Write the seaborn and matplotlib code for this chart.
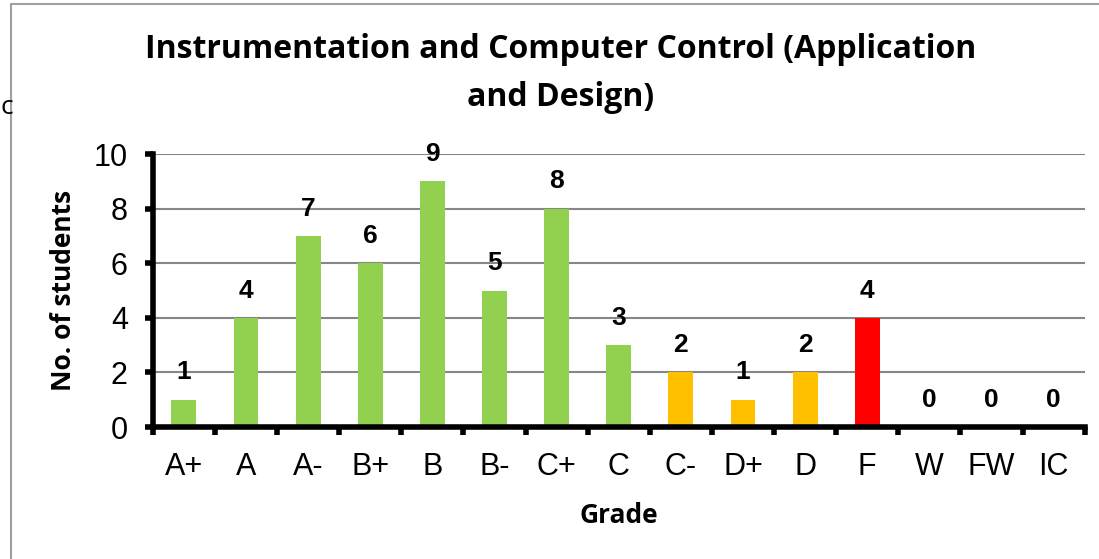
import numpy as np
import pandas as pd
import matplotlib
matplotlib.use('Agg')
import matplotlib.pyplot as plt
import seaborn as sns
from matplotlib.lines import Line2D

grades = ['A+', 'A', 'A-', 'B+', 'B', 'B-', 'C+', 'C', 'C-', 'D+', 'D', 'F', 'W', 'FW', 'IC']
students = [1, 4, 7, 6, 9, 5, 8, 3, 2, 1, 2, 4, 0, 0, 0]
bar_colors = ['#92D050'] * 8 + ['#FFC000'] * 3 + ['#FF0000'] + ['#92D050'] * 3

df = pd.DataFrame({'Grade': grades, 'Students': students})

sns.set_style('white')
plt.rcParams['font.family'] = ['Liberation Sans', 'DejaVu Sans']
plt.rcParams['text.color'] = 'black'
plt.rcParams['axes.labelcolor'] = 'black'
plt.rcParams['xtick.color'] = 'black'
plt.rcParams['ytick.color'] = 'black'

fig = plt.figure(figsize=(10.99, 5.59), dpi=100)
ax = fig.add_axes([0.139, 0.236, 0.848, 0.4885])

sns.barplot(data=df, x='Grade', y='Students', hue='Grade', palette=bar_colors,
            width=0.4, legend=False, saturation=1, linewidth=0, ax=ax)

ax.set_ylim(0, 10)
ax.set_xlim(-0.5, len(grades) - 0.5)
ax.set_yticks(range(0, 11, 2))
ax.yaxis.grid(True, color='#868686', linewidth=1.5)
ax.set_axisbelow(True)

# category boundary ticks, labels on minor ticks
ax.set_xticks(np.arange(-0.5, len(grades), 1.0))
ax.set_xticklabels([])
ax.set_xticks(range(len(grades)), minor=True)
ax.set_xticklabels(grades, minor=True, fontsize=22)
ax.tick_params(axis='x', which='major', bottom=True, direction='out', length=6, width=4, color='black')
ax.tick_params(axis='x', which='minor', bottom=True, length=0, pad=18)
ax.tick_params(axis='y', left=True, direction='out', length=6, width=4, color='black', labelsize=22, pad=12)

for s in ['top', 'right']:
    ax.spines[s].set_visible(False)
for s in ['left', 'bottom']:
    ax.spines[s].set_linewidth(4)
    ax.spines[s].set_color('black')

for i, v in enumerate(students):
    ax.annotate(str(v), (i, v), xytext=(0, 11), textcoords='offset points',
                ha='center', va='bottom', fontsize=19, fontweight='bold')

ax.set_xlabel('Grade', fontsize=19, fontweight='bold', family=['Open Sans', 'DejaVu Sans'], labelpad=14)
ax.set_ylabel('No. of students', fontsize=19, fontweight='bold', family=['Open Sans', 'DejaVu Sans'], labelpad=12)

fig.text(0.51, 1 - 50 / 559, 'Instrumentation and Computer Control (Application',
         ha='center', va='center', fontsize=23, fontweight='bold', family=['Open Sans', 'DejaVu Sans'])
fig.text(0.51, 1 - 97 / 559, 'and Design)',
         ha='center', va='center', fontsize=23, fontweight='bold', family=['Open Sans', 'DejaVu Sans'])

# stray text and frame at the left edge
fig.text(1 / 1099, 1 - 108 / 559, 'c', ha='left', va='center', fontsize=19,
         family=['Open Sans', 'DejaVu Sans'])
fig.add_artist(Line2D([11 / 1099, 11 / 1099], [0, 1 - 4 / 559], transform=fig.transFigure,
                      color='#a0a0a0', linewidth=1.5))
fig.add_artist(Line2D([11 / 1099, 1], [1 - 4 / 559, 1 - 4 / 559], transform=fig.transFigure,
                      color='#a0a0a0', linewidth=1.5))

fig.savefig('out.png', dpi=100)
